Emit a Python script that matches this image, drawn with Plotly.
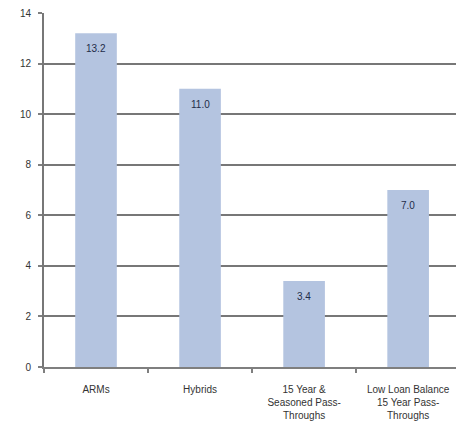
import plotly.graph_objects as go

categories = [
    "ARMs",
    "Hybrids",
    "15 Year &<br>Seasoned Pass-<br>Throughs",
    "Low Loan Balance<br>15 Year Pass-<br>Throughs",
]
values = [13.2, 11.0, 3.4, 7.0]
y_ticks = [0, 2, 4, 6, 8, 10, 12, 14]

fig = go.Figure(
    go.Bar(
        x=categories,
        y=values,
        width=0.4,
        marker=dict(color="#B4C4E0", line=dict(width=0)),
        cliponaxis=False,
    )
)

# value labels just below each bar top
for c, v in zip(categories, values):
    fig.add_annotation(
        x=c, y=v, text=f"{v:.1f}", showarrow=False,
        yanchor="top", yshift=-8,
        font=dict(family="Liberation Sans", size=10, color="#1F2D4A"),
    )

fig.update_layout(
    width=456,
    height=430,
    margin=dict(l=44, r=0, t=13, b=63),
    paper_bgcolor="white",
    plot_bgcolor="white",
    showlegend=False,
    font=dict(family="Liberation Sans", size=10, color="#333333"),
)

fig.update_xaxes(
    range=[-0.5, 3.46],
    tickson="boundaries",
    ticks="outside",
    ticklen=4,
    tickwidth=1.5,
    tickcolor="#7F7F7F",
    ticklabelstandoff=12,
    showline=True,
    linecolor="#7F7F7F",
    linewidth=2,
    showgrid=False,
    tickfont=dict(size=10, color="#333333"),
)

fig.update_yaxes(
    range=[0, 14],
    tickvals=y_ticks,
    ticks="outside",
    ticklen=4,
    tickwidth=1.5,
    tickcolor="#7F7F7F",
    ticklabelstandoff=5,
    showline=True,
    linecolor="#777777",
    linewidth=2,
    showgrid=True,
    gridcolor="#777777",
    gridwidth=2,
    zeroline=False,
    tickfont=dict(size=10, color="#333333"),
)

fig.write_html("out.html")
